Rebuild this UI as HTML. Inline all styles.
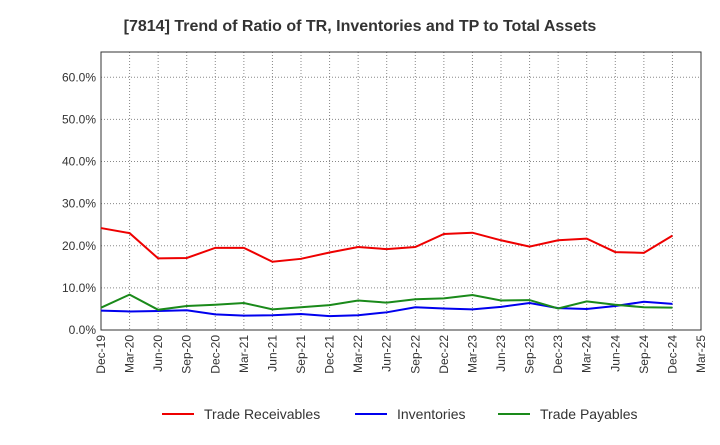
<!DOCTYPE html>
<html><head><meta charset="utf-8"><style>
body{margin:0;background:#fff;font-family:"Liberation Sans",sans-serif;}
</style></head><body>
<svg id="chart" width="720" height="440" xmlns="http://www.w3.org/2000/svg">
<text x="360" y="31" text-anchor="middle" font-size="16" font-weight="bold" fill="#333">[7814]  Trend of Ratio of TR, Inventories and TP to Total Assets</text>
<g id="grid"></g><g id="axes"></g><g id="series"></g><g id="legend"></g>
</svg>
<script>
const categories=["Dec-19","Mar-20","Jun-20","Sep-20","Dec-20","Mar-21","Jun-21","Sep-21","Dec-21","Mar-22","Jun-22","Sep-22","Dec-22","Mar-23","Jun-23","Sep-23","Dec-23","Mar-24","Jun-24","Sep-24","Dec-24","Mar-25"];
const tradeReceivables=[24.2,23.0,17.0,17.1,19.5,19.5,16.2,16.9,18.4,19.7,19.2,19.7,22.8,23.1,21.3,19.8,21.3,21.7,18.5,18.3,22.4];
const inventories=[4.6,4.4,4.5,4.7,3.7,3.4,3.5,3.8,3.3,3.5,4.2,5.4,5.1,4.9,5.5,6.4,5.2,5.0,5.7,6.7,6.2];
const tradePayables=[5.3,8.4,4.8,5.7,6.0,6.4,4.9,5.4,5.9,7.0,6.5,7.3,7.5,8.3,7.0,7.1,5.1,6.8,6.0,5.4,5.3];
const yTicks=[0,10,20,30,40,50,60];
const yTickLabels=["0.0%","10.0%","20.0%","30.0%","40.0%","50.0%","60.0%"];
const X0=101,X1=701,Y0=330,YTOP=52,YMAX=66;
const xs=i=>X0+(X1-X0)*i/(categories.length-1);
const ys=v=>Y0-(Y0-YTOP)*v/YMAX;
const NS="http://www.w3.org/2000/svg";
function mk(tag,attrs,parent,text){const e=document.createElementNS(NS,tag);for(const k in attrs)e.setAttribute(k,attrs[k]);if(text!==undefined)e.textContent=text;parent.appendChild(e);return e;}
const grid=document.getElementById('grid'),axes=document.getElementById('axes'),series=document.getElementById('series'),legend=document.getElementById('legend');
let bg=mk('rect',{x:X0,y:YTOP,width:X1-X0,height:Y0-YTOP,fill:'none',stroke:'#333','stroke-width':1},axes);


categories.forEach((c,i)=>{
  const x=xs(i);
  if(i>0&&i<categories.length-1){const l=mk('line',{x1:x,y1:YTOP,x2:x,y2:Y0,stroke:'#888','stroke-dasharray':'1,2'},grid);
  
  }
  const t=mk('text',{x:0,y:0,transform:`translate(${x+4},${Y0+5}) rotate(-90)`,'text-anchor':'end','font-size':12,fill:'#333'},axes,c);
  
  
});
yTicks.forEach((v,i)=>{
  const y=ys(v);
  if(v>0){const l=mk('line',{x1:X0,y1:y,x2:X1,y2:y,stroke:'#888','stroke-dasharray':'1,2'},grid);
  
  }
  const t=mk('text',{x:X0-5,y:y+4,'text-anchor':'end','font-size':12,fill:'#333'},axes,yTickLabels[i]);
  
  
});
const defs=[[tradeReceivables,'#e00','Trade Receivables','trade-receivables-line'],[inventories,'#00e','Inventories','inventories-line'],[tradePayables,'#1a8a1a','Trade Payables','trade-payables-line']];
defs.forEach(([d,col,name,dn])=>{
  const p=mk('polyline',{points:d.map((v,i)=>xs(i)+','+ys(v)).join(' '),fill:'none',stroke:col,'stroke-width':2},series);
  
  
});
const lx=[162,355,498];
defs.forEach(([d,col,name],i)=>{
  const g=mk('g',{},legend);
  
  
  mk('line',{x1:lx[i],y1:414,x2:lx[i]+32,y2:414,stroke:col,'stroke-width':2},g);
  mk('text',{x:lx[i]+42,y:419,'font-size':14,fill:'#333'},g,name);
});
</script>
</body></html>
